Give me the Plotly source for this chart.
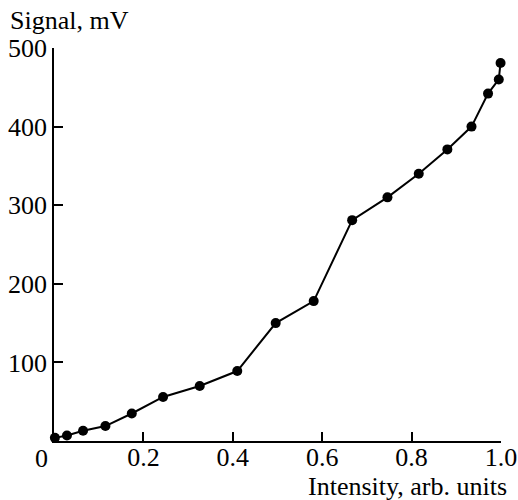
import plotly.graph_objects as go

intensity = [0.002, 0.029, 0.065, 0.115, 0.174, 0.244, 0.326, 0.410, 0.496, 0.581,
             0.667, 0.746, 0.816, 0.880, 0.934, 0.971, 0.995, 0.999]
signal = [4, 7, 13, 19, 35, 56, 70, 89, 150, 178,
          281, 310, 340, 371, 400, 442, 460, 481]

x_tickvals = [0.2, 0.4, 0.6, 0.8, 1.0]
x_ticktext = ["0.2", "0.4", "0.6", "0.8", "1.0"]
y_tickvals = [100, 200, 300, 400, 500]
y_ticktext = ["100", "200", "300", "400", "500"]

FONT = "Liberation Serif, Times New Roman, serif"
L, R, T, B = 54, 17, 48, 59
W, H = 518, 500
pw = W - L - R
ph = H - T - B

fig = go.Figure()
fig.add_trace(go.Scatter(
    x=intensity, y=signal, mode="lines+markers",
    line=dict(color="black", width=2),
    marker=dict(color="black", size=10),
    cliponaxis=False, showlegend=False,
))

fig.update_layout(
    width=W, height=H,
    margin=dict(l=L, r=R, t=T, b=B, autoexpand=False),
    paper_bgcolor="white", plot_bgcolor="white",
    font=dict(family=FONT, size=26, color="black"),
    xaxis=dict(range=[0, 1.0], tickvals=x_tickvals, ticktext=x_ticktext,
               ticks="inside", ticklen=9, tickwidth=1.5, tickcolor="black",
               showline=True, linecolor="black", linewidth=1.5,
               showgrid=False, zeroline=False, ticklabelstandoff=-8, automargin=False),
    yaxis=dict(range=[0, 500], tickvals=y_tickvals, ticktext=y_ticktext,
               ticks="inside", ticklen=9, tickwidth=1.5, tickcolor="black",
               showline=True, linecolor="black", linewidth=1.5,
               showgrid=False, zeroline=False, ticklabelstandoff=0, automargin=False),
)
fig.add_annotation(text="0", x=0, y=0, xref="x", yref="y", xanchor="center", yanchor="middle",
                   xshift=-13, yshift=-17, showarrow=False)
fig.add_annotation(text="Signal, mV", x=(8 - L) / pw, y=(H - B - 20) / ph,
                   xref="paper", yref="paper", xanchor="left", yanchor="middle",
                   showarrow=False)
fig.add_annotation(text="Intensity, arb. units", x=(509 - L) / pw, y=(H - B - 486) / ph,
                   xref="paper", yref="paper", xanchor="right", yanchor="middle",
                   showarrow=False)

fig.write_html("out.html")
